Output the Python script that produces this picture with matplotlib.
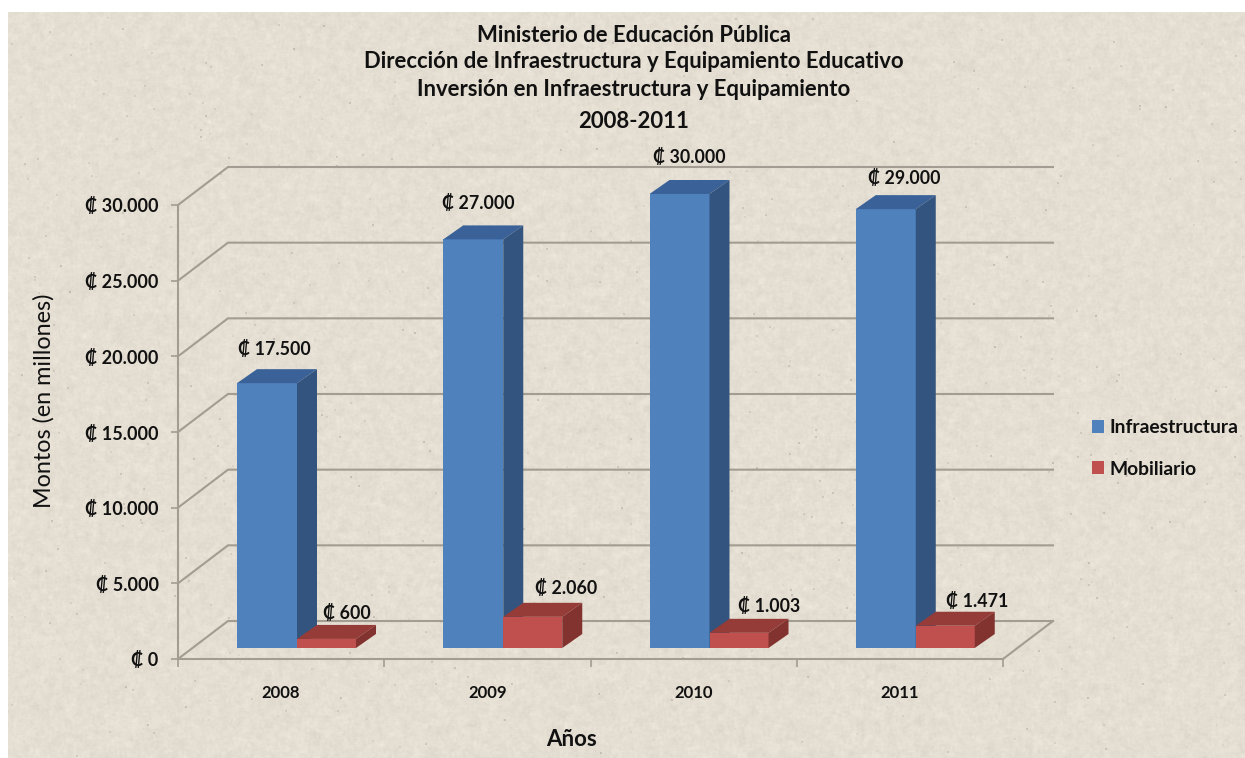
import matplotlib
matplotlib.use("Agg")
import matplotlib.pyplot as plt
from matplotlib.patches import Polygon, Patch
import numpy as np

years = ["2008", "2009", "2010", "2011"]
infraestructura = [17500, 27000, 30000, 29000]
mobiliario = [600, 2060, 1003, 1471]
y_ticks = [0, 5000, 10000, 15000, 20000, 25000, 30000]

FONT = ["Lato", "DejaVu Serif"]
W, H = 1245, 758
BLUE = ("#4F81BD", "#3A6299", "#33547E")
RED = ("#C0504D", "#953B38", "#83332F")
GRID = "#A29C92"
INK = "#111111"

# pixel sizes of the fake 3d box
LEFT, RIGHT, BOTTOM, TOP = 178, 1003, 659, 205
PX_X = (RIGHT - LEFT) / 4
PX_Y = (BOTTOM - TOP) / 30000


def money(v):
    return "₡ " + f"{v:,}".replace(",", ".")


def smooth(a, k):
    # cheap box blur along both directions
    for axis in (0, 1):
        a = sum(np.roll(a, s, axis=axis) for s in range(-k, k + 1)) / (2 * k + 1)
    return a


def stone_texture(rng):
    base = np.array([229, 222, 210]) / 255
    coarse = smooth(rng.normal(0, 1, (H, W)), 3)
    medium = smooth(rng.normal(0, 1, (H, W)), 1)
    light = 0.05 * coarse + 0.02 * medium
    tex = base + light[..., None]
    # small dark specks
    n = 700
    ys = rng.integers(0, H - 2, n)
    xs = rng.integers(0, W - 2, n)
    amt = rng.uniform(-0.12, -0.02, n)
    for y, x, a in zip(ys, xs, amt):
        tex[y:y + 2, x:x + 2] += a
    tex = np.clip(tex, 0, 1)
    tex[:12, :] = 1
    tex[:, :8] = 1
    return tex


fig = plt.figure(figsize=(W / 100, H / 100), dpi=100)
bg = fig.add_axes([0, 0, 1, 1], zorder=0)
bg.imshow(stone_texture(np.random.default_rng(7)), aspect="auto", interpolation="bilinear")
bg.axis("off")

ax = fig.add_axes([LEFT / W, (H - BOTTOM) / H, (RIGHT - LEFT) / W, (BOTTOM - TOP) / H], zorder=1)
ax.patch.set_alpha(0)
ax.set_xlim(0, 4)
ax.set_ylim(0, 30000)

wall_dx = 50 / PX_X
wall_dy = 38 / PX_Y

# back wall gridlines and floor
for v in y_ticks:
    ax.plot([0, wall_dx, 4 + wall_dx], [v, v + wall_dy, v + wall_dy],
            color=GRID, lw=1.5, clip_on=False, zorder=1, solid_joinstyle="miter")
ax.plot([4 + wall_dx, 4], [wall_dy, 0], color=GRID, lw=1.5, clip_on=False, zorder=1)

bar_dx = 20 / PX_X
bar_dy = 14 / PX_Y
floor = 11 / PX_Y
first = 59 / PX_X
w_blue = 60 / PX_X
w_red = 59 / PX_X


def box(x, v, width, cols, z):
    ax.bar([x], [v], width=width, bottom=floor, align="edge", color=cols[0], lw=0, zorder=z, clip_on=False)
    top = floor + v
    ax.add_patch(Polygon([(x, top), (x + bar_dx, top + bar_dy),
                          (x + width + bar_dx, top + bar_dy), (x + width, top)],
                         closed=True, fc=cols[1], lw=0, zorder=z, clip_on=False))
    ax.add_patch(Polygon([(x + width, floor), (x + width + bar_dx, floor + bar_dy),
                          (x + width + bar_dx, top + bar_dy), (x + width, top)],
                         closed=True, fc=cols[2], lw=0, zorder=z, clip_on=False))


# label nudges in pixels, the chart places each one by hand
blue_off = [(7, 34), (5, 36), (10, 37), (18, 31)]
red_off = [(20, 26), (33, 29), (30, 27), (32, 25)]

for i in range(len(years)):
    x1 = i + first
    x2 = x1 + w_blue
    box(x1, infraestructura[i], w_blue, BLUE, 3)
    box(x2, mobiliario[i], w_red, RED, 4)
    ax.annotate(money(infraestructura[i]), (x1 + w_blue / 2, floor + infraestructura[i]),
                xytext=blue_off[i], textcoords="offset pixels", ha="center", va="center",
                family=FONT, weight="bold", fontsize=12.8, color=INK, zorder=6, annotation_clip=False)
    ax.annotate(money(mobiliario[i]), (x2 + w_red / 2, floor + mobiliario[i]),
                xytext=red_off[i], textcoords="offset pixels", ha="center", va="center",
                family=FONT, weight="bold", fontsize=12.8, color=INK, zorder=6, annotation_clip=False)

for s in ["top", "right"]:
    ax.spines[s].set_visible(False)
for s in ["left", "bottom"]:
    ax.spines[s].set_color(GRID)
    ax.spines[s].set_linewidth(1.5)

ax.set_yticks(y_ticks)
ax.set_yticklabels([money(v) for v in y_ticks], family=FONT, weight="bold", fontsize=13, color=INK)
ax.tick_params(axis="y", length=5, width=1.2, color=GRID, pad=9)
ax.set_xticks(range(5))
ax.set_xticklabels([])
ax.tick_params(axis="x", which="major", length=6, width=1.2, color=GRID)
ax.set_xticks(np.arange(len(years)) + 0.5, minor=True)
ax.set_xticklabels(years, minor=True, family=FONT, weight="bold", fontsize=12, color=INK)
ax.tick_params(axis="x", which="minor", length=0, pad=19)

title = ["Ministerio de Educación Pública",
         "Dirección de Infraestructura y Equipamiento Educativo",
         "Inversión en Infraestructura y Equipamiento",
         "2008-2011"]
for line, ypix in zip(title, [36, 61, 89, 121]):
    fig.text(634 / W, 1 - ypix / H, line, ha="center", va="center",
             family=FONT, weight="bold", fontsize=15.9, color=INK, zorder=5)

fig.text(572 / W, 1 - 740 / H, "Años", ha="center", va="center",
         family=FONT, weight="bold", fontsize=16, color=INK)
fig.text(44 / W, 1 - 401 / H, "Montos (en millones)", ha="center", va="center", rotation=90,
         family=FONT, fontsize=16.8, color=INK)

handles = [Patch(fc=BLUE[0], lw=0, label="Infraestructura"),
           Patch(fc=RED[0], lw=0, label="Mobiliario")]
fig.legend(handles=handles, loc="upper left", bbox_to_anchor=(1075 / W, 1 - 402 / H), frameon=False,
           prop={"family": FONT, "weight": "bold", "size": 13.9}, handlelength=0.62, handleheight=0.62,
           handletextpad=0.26, labelspacing=1.25, labelcolor=INK)

fig.savefig("out.png", dpi=100)
